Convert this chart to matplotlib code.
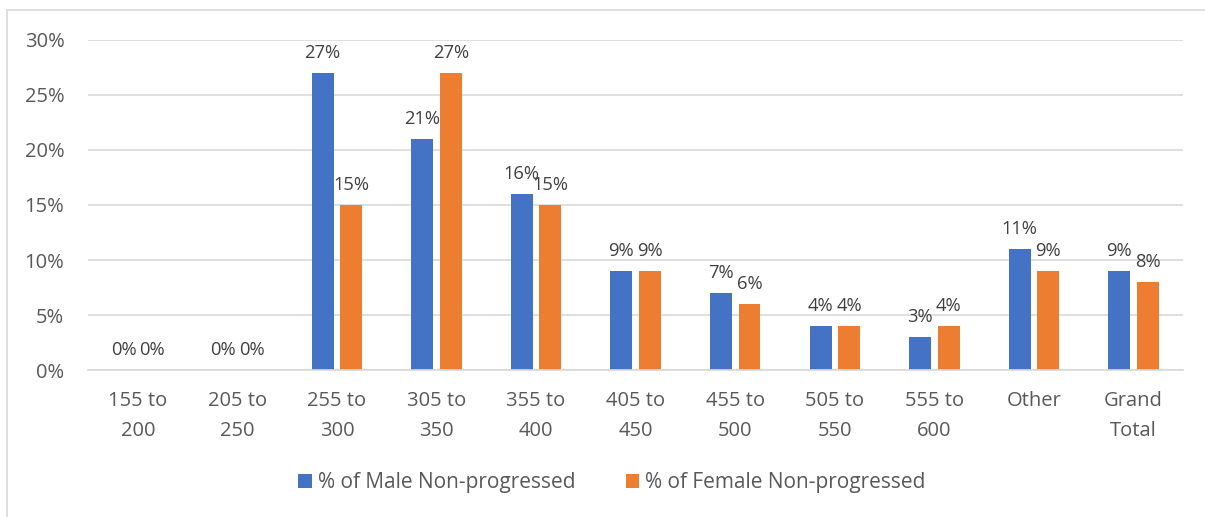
import numpy as np
import matplotlib.pyplot as plt
from matplotlib.lines import Line2D

categories = ["155 to\n200", "205 to\n250", "255 to\n300", "305 to\n350", "355 to\n400",
              "405 to\n450", "455 to\n500", "505 to\n550", "555 to\n600", "Other", "Grand\nTotal"]
male = [0, 0, 27, 21, 16, 9, 7, 4, 3, 11, 9]
female = [0, 0, 15, 27, 15, 9, 6, 4, 4, 9, 8]
series_names = ["% of Male Non-progressed", "% of Female Non-progressed"]

plt.rcParams['font.family'] = ['Open Sans', 'DejaVu Sans']

fig = plt.figure(figsize=(12.05, 5.17), dpi=100)
ax = fig.add_axes([0.073, 0.284, 0.909, 0.639])

x = np.arange(len(categories))
w = 0.22
off = 0.143
b1 = ax.bar(x - off, male, w, color='#4472C4', label=series_names[0])
b2 = ax.bar(x + off, female, w, color='#ED7D31', label=series_names[1])

for bars, vals in ((b1, male), (b2, female)):
    for r, v in zip(bars, vals):
        ax.annotate(f"{v}%", (r.get_x() + r.get_width() / 2, v), xytext=(0, 8),
                    textcoords='offset points', ha='center', va='bottom',
                    fontsize=13.2, color='#404040')

ax.set_xlim(-0.5, len(categories) - 0.5)
ax.set_ylim(0, 30)
ax.set_yticks(range(0, 31, 5))
ax.set_yticklabels([f"{t}%" for t in range(0, 31, 5)])
ax.set_xticks(x)
ax.set_xticklabels(categories, linespacing=1.65, va='top')
ax.yaxis.grid(True, color='#D9D9D9', linewidth=1.2)
ax.set_axisbelow(True)
for s in ('top', 'right', 'left'):
    ax.spines[s].set_visible(False)
ax.spines['bottom'].set_color('#D9D9D9')
ax.spines['bottom'].set_linewidth(1.2)
ax.tick_params(axis='both', length=0, labelsize=14.5, colors='#595959')
ax.tick_params(axis='x', pad=15)
ax.tick_params(axis='y', pad=17)

leg = fig.legend(handles=[b1, b2], loc='center', bbox_to_anchor=(0.508, 0.066), ncol=2,
                 frameon=False, fontsize=15, handlelength=0.65, handleheight=0.65,
                 handletextpad=0.3, columnspacing=2.4)
for t in leg.get_texts():
    t.set_color('#595959')

# partial chart border
fig.add_artist(Line2D([0.006, 0.006], [0, 0.981], transform=fig.transFigure, color='#D9D9D9', lw=1.2))
fig.add_artist(Line2D([0.006, 1.0], [0.981, 0.981], transform=fig.transFigure, color='#D9D9D9', lw=1.2))

fig.savefig("out.png", dpi=100)
